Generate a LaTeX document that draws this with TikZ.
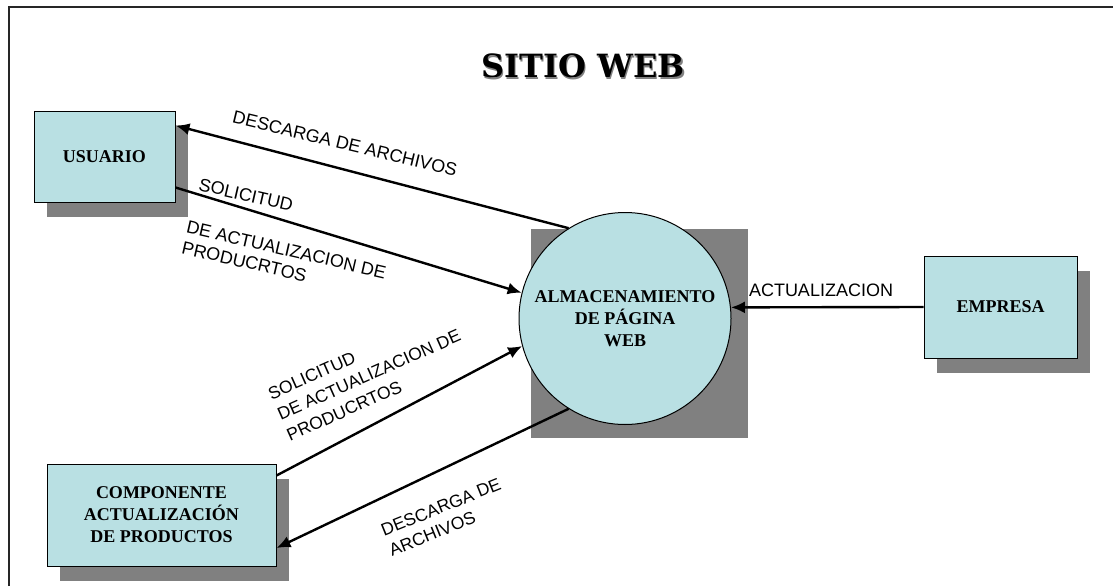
\documentclass[tikz,border=0pt]{standalone}
\usepackage{fontspec}
\setmainfont{Liberation Serif}
\setsansfont{Liberation Sans}
\newfontfamily\titulofont{DejaVu Serif}
\usetikzlibrary{shadows,arrows.meta}
\definecolor{celeste}{HTML}{B9E0E3}
\definecolor{sombra}{HTML}{808080}

\begin{document}
\begin{tikzpicture}[x=1pt,y=-1pt,
   caja/.style={draw=black, fill=celeste, line width=1pt, inner sep=0pt, align=center,
     font=\fontsize{18}{22}\selectfont\bfseries,
     drop shadow={shadow xshift=13pt, shadow yshift=-15pt, fill=sombra, opacity=1}},
   flujo/.style={line width=2.4pt, -{Latex[length=14pt,width=12pt]}},
   etiqueta/.style={font=\sffamily\fontsize{18}{22}\selectfont, inner sep=0pt, align=left}]

   \useasboundingbox (0,0) rectangle (1113,586);
   \draw[line width=2pt, black!85] (9,586) -- (9,7) -- (1113,7);

   % titulo
   \node[text=sombra, font=\titulofont\fontsize{32}{36}\selectfont\bfseries] at (584.5,67.5) {SITIO WEB};
   \node[font=\titulofont\fontsize{32}{36}\selectfont\bfseries] (titulo) at (583,66) {SITIO WEB};

   % entidades
   \node[caja, minimum width=141pt, minimum height=91pt] (usuario) at (104.5,156.5) {USUARIO};
   \node[caja, minimum width=229pt, minimum height=102pt] (componente) at (161.5,515) {COMPONENTE\\ACTUALIZACIÓN\\DE PRODUCTOS};
   \node[caja, minimum width=153pt, minimum height=102pt] (empresa) at (1000.5,307) {EMPRESA};

   \fill[sombra] (531,229) rectangle (748,438);
   \node[circle, draw=black, fill=celeste, line width=1pt, minimum size=212pt, inner sep=0pt, align=center,
     font=\fontsize{18}{22}\selectfont\bfseries] (almacen) at (625,318.5) {ALMACENAMIENTO\\DE PÁGINA\\WEB};

   % flujos
   \draw[flujo] (almacen.122) -- ([yshift=31pt]usuario.east);
   \draw[flujo] ([yshift=-31pt]usuario.east) -- (almacen.166);
   \draw[flujo] ([yshift=-12pt]componente.north east) -- (almacen.195);
   \draw[flujo] (almacen.238) -- ([yshift=-33pt]componente.east);
   \draw[flujo] (empresa.west) -- (almacen.6);

   \node[etiqueta, rotate=-13.5] (lbldesc1) at (345,143.5) {DESCARGA DE ARCHIVOS};
   \node[etiqueta, rotate=-13] (lblsol1) at (246,195) {SOLICITUD};
   \node[etiqueta, rotate=-13, font=\sffamily\fontsize{18}{21}\selectfont] (lblact1) at (284,260) {DE ACTUALIZACION DE\\PRODUCRTOS};
   \node[etiqueta, rotate=24, font=\sffamily\fontsize{17.5}{22.8}\selectfont] (lblsol2) at (369,375)
     {SOLICITUD\\DE ACTUALIZACION DE\\PRODUCRTOS};
   \node[etiqueta, rotate=22, font=\sffamily\fontsize{17.5}{21.5}\selectfont] (lbldesc2) at (445,517) {DESCARGA DE\\ARCHIVOS};
   \node[etiqueta] (lblact) at (821,290) {ACTUALIZACION};

\end{tikzpicture}
\end{document}
